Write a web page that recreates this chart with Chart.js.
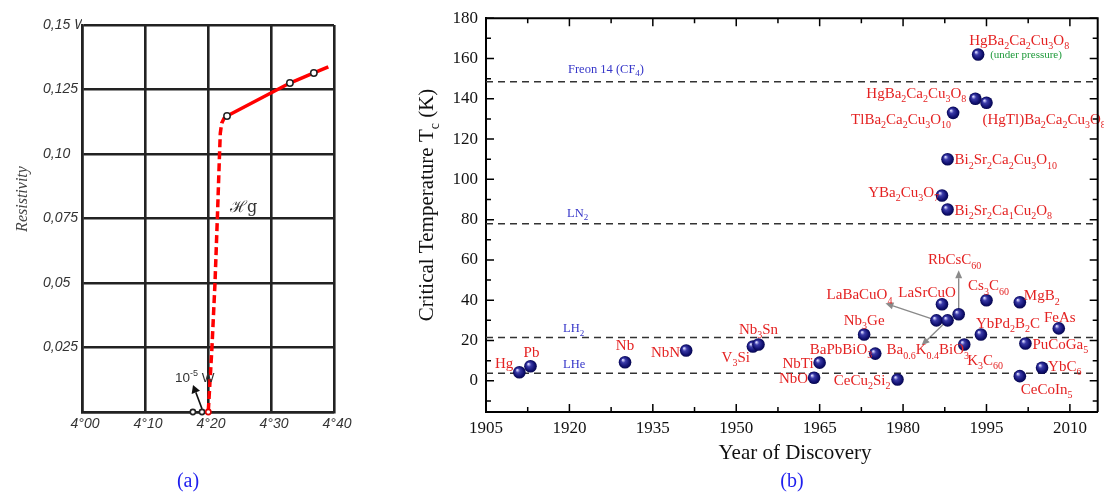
<!DOCTYPE html>
<html>
<head>
<meta charset="utf-8">
<title>Superconductivity: mercury resistance and critical temperatures</title>
<script src="https://cdn.jsdelivr.net/npm/chart.js@4.4.1/dist/chart.umd.min.js"></script>
<style>
  html, body { margin: 0; padding: 0; background: #fff; }
  #wrap { position: relative; width: 1104px; height: 495px; overflow: hidden; }
  #chartA { position: absolute; left: 0; top: 0; }
  #chartB { position: absolute; left: 380px; top: 0; }
</style>
</head>
<body>
<div id="wrap">
  <canvas id="chartA" width="380" height="495"></canvas>
  <canvas id="chartB" width="724" height="495"></canvas>
</div>
<script>
// ---------- panel (a): resistance of mercury near 4.2 K ----------
const hgTemps = [4.2302, 4.330, 4.368, 4.391];
const hgRes = [0.1147, 0.1275, 0.1314, 0.1338];
const hgDropTemps = [4.2005, 4.2063, 4.2111, 4.2148, 4.2183, 4.2195, 4.2217, 4.2254, 4.2302];
const hgDropRes = [0.0004, 0.0252, 0.05, 0.0748, 0.1, 0.108, 0.1119, 0.1138, 0.1147];
const hgZeroTemps = [4.176, 4.1905, 4.2005];
const hgZeroRes = [0, 0, 0];
const tempTickLabels = ['4°00', '4°10', '4°20', '4°30', '4°40'];
const resTickLabels = ['', '0,025', '0,05', '0,075', '0,10', '0,125', '0,15 W'];

// ---------- panel (b): Tc vs year of discovery ----------
const compounds = ['Hg', 'Pb', 'Nb', 'NbN', 'V_3Si', 'Nb_3Sn', 'NbTi', 'NbO', 'Nb_3Ge', 'BaPbBiO_3',
  'CeCu_2Si_2', 'LaBaCuO_4', 'Ba_{0.6}K_{0.4}BiO_3', 'LaSrCuO', 'RbCsC_{60}', 'K_3C_{60}', 'Cs_3C_{60}',
  'YbPd_2B_2C', 'MgB_2', 'PuCoGa_5', 'CeCoIn_5', 'YbC_6', 'FeAs', 'HgBa_2Ca_2Cu_3O_8',
  'HgBa_2Ca_2Cu_3O_8', '(HgTl)Ba_2Ca_2Cu_3O_8', 'TlBa_2Ca_2Cu_3O_{10}', 'Bi_2Sr_2Ca_2Cu_3O_{10}',
  'YBa_2Cu_3O_7', 'Bi_2Sr_2Ca_1Cu_2O_8'];
const years = [1911, 1913, 1930, 1941, 1953, 1954, 1965, 1964, 1973, 1975,
  1979, 1986, 1988, 1987, 1990, 1991, 1995,
  1994, 2001, 2002, 2001, 2005, 2008, 1993.5,
  1993, 1995, 1989, 1988,
  1987, 1988];
const tcValues = [4.2, 7.2, 9.2, 15, 17, 18, 9, 1.5, 23, 13.5,
  0.6, 30, 30, 38, 33, 18, 40,
  23, 39, 18.5, 2.3, 6.5, 26, 162,
  140, 138, 133, 110,
  92, 85];
const notes = compounds.map((c, i) => (i === 23 ? '(under pressure)' : ''));
const coolants = ['Freon 14 (CF_4)', 'LN_2', 'LH_2', 'LHe'];
const coolantTemps = [148.5, 78, 21.5, 3.7];

// label placement: [align, dx, dy] in pixels from the marker
const labelPlace = [
  ['right', -6, -9], ['center', 1, -14], ['center', 0, -17], ['right', -6, 1], ['right', -3, 10],
  ['center', 0, -16], ['right', -6, 0], ['right', -6, 0], ['center', 0, -15], ['right', -3, -5],
  ['right', -7, 0], ['right', -44, -26], ['left', -61, 29], ['center', -15, -12], ['center', -4, -55],
  ['left', 3, 15], ['center', 2, -15], ['left', -5, -12], ['left', 4, -7], ['left', 7, 0],
  ['left', 1, 13], ['left', 6, -2], ['center', 1, -12], ['left', -9, -15], ['right', -9, -6],
  ['left', -4, 16], ['right', -2, 6], ['left', 7, 0], ['right', -3, -4], ['left', 7, 0]
];
const arrowPlace = { 11: [-51, -17], 12: [-26, 25], 14: [0, -44] };
const coolantPlace = [['center', 120, -9], ['left', 81, -7], ['left', 77, -5], ['left', 77, -5]];

const SERIF = '"Liberation Serif", "DejaVu Serif", serif';
const SANS = '"Liberation Sans", Arial, sans-serif';

function zip(xs, ys) {
  return xs.map((x, i) => ({ x: x, y: ys[i] }));
}

// simple rich text: _x or _{..} subscript, ^x or ^{..} superscript
function parseRich(s) {
  const segs = [];
  let i = 0;
  while (i < s.length) {
    const c = s[i];
    if (c === '_' || c === '^') {
      let t;
      if (s[i + 1] === '{') {
        const j = s.indexOf('}', i);
        t = s.slice(i + 2, j);
        i = j + 1;
      } else {
        t = s[i + 1];
        i += 2;
      }
      segs.push({ t: t, k: c });
    } else {
      let j = i;
      while (j < s.length && s[j] !== '_' && s[j] !== '^') j++;
      segs.push({ t: s.slice(i, j), k: '' });
      i = j;
    }
  }
  return segs;
}

function drawRich(ctx, s, x, y, size, family, color, align, style) {
  const segs = parseRich(s);
  const pre = style ? style + ' ' : '';
  const fontOf = k => pre + (k ? Math.round(size * 0.68) : size) + 'px ' + family;
  let w = 0;
  segs.forEach(g => {
    ctx.font = fontOf(g.k);
    g.w = ctx.measureText(g.t).width;
    w += g.w;
  });
  let cx = align === 'right' ? x - w : align === 'center' ? x - w / 2 : x;
  const base = y + size * 0.34;
  ctx.fillStyle = color;
  ctx.textAlign = 'left';
  ctx.textBaseline = 'alphabetic';
  segs.forEach(g => {
    ctx.font = fontOf(g.k);
    const dy = g.k === '_' ? size * 0.28 : g.k === '^' ? -size * 0.4 : 0;
    ctx.fillText(g.t, cx, base + dy);
    cx += g.w;
  });
}

function drawArrow(ctx, x1, y1, x2, y2, color, width, head, half) {
  const ang = Math.atan2(y2 - y1, x2 - x1);
  const bx = x2 - head * Math.cos(ang), by = y2 - head * Math.sin(ang);
  ctx.strokeStyle = color;
  ctx.fillStyle = color;
  ctx.lineWidth = width;
  ctx.beginPath();
  ctx.moveTo(x1, y1);
  ctx.lineTo(bx, by);
  ctx.stroke();
  ctx.beginPath();
  ctx.moveTo(x2, y2);
  ctx.lineTo(bx + half * Math.sin(ang), by - half * Math.cos(ang));
  ctx.lineTo(bx - half * Math.sin(ang), by + half * Math.cos(ang));
  ctx.closePath();
  ctx.fill();
}

// ---------- chart (a) ----------
const panelAText = {
  id: 'panelAText',
  afterDraw(chart) {
    const { ctx, scales: { x, y } } = chart;
    ctx.save();
    drawArrow(ctx, x.getPixelForValue(4.1905), y.getPixelForValue(0.0012),
      x.getPixelForValue(4.1762), y.getPixelForValue(0.0105), '#111', 1.6, 8, 4.5);
    drawRich(ctx, '10^{-5} W', x.getPixelForValue(4.1476), y.getPixelForValue(0.0136), 13.5, SANS, '#333', 'left');
    drawRich(ctx, 'ℋg', x.getPixelForValue(4.2349), y.getPixelForValue(0.0795), 16, '"DejaVu Serif", serif', '#333', 'left');
    ctx.save();
    ctx.translate(22, 199);
    ctx.rotate(-Math.PI / 2);
    drawRich(ctx, 'Resistivity', 0, 0, 16, SERIF, '#444', 'center', 'italic');
    ctx.restore();
    drawRich(ctx, '(a)', 188, 480, 20, SERIF, '#1f1fee', 'center');
    ctx.restore();
  }
};

const axisA = {
  border: { display: true, color: '#222', width: 2.5 },
  grid: { color: '#222', lineWidth: 2.6, drawTicks: false }
};

new Chart(document.getElementById('chartA'), {
  type: 'scatter',
  data: {
    datasets: [
      {
        label: 'zero resistance',
        data: zip(hgZeroTemps, hgZeroRes),
        showLine: false,
        pointRadius: 2.6,
        pointBorderWidth: 1.6,
        pointBorderColor: ['#222', '#222', '#e00000'],
        pointBackgroundColor: '#fff',
        clip: false
      },
      {
        label: 'measured',
        data: zip(hgTemps, hgRes),
        showLine: true,
        borderColor: '#ff0000',
        borderWidth: 3.5,
        pointRadius: [3.2, 3.2, 3.2, 0],
        pointBorderColor: '#222',
        pointBorderWidth: 1.5,
        pointBackgroundColor: '#fff',
        clip: false
      },
      {
        label: 'transition',
        data: zip(hgDropTemps, hgDropRes),
        showLine: true,
        borderColor: '#ff0000',
        borderWidth: 3.5,
        borderDash: [8, 4],
        pointRadius: 0,
        clip: false
      }
    ]
  },
  options: {
    responsive: false,
    animation: false,
    devicePixelRatio: 1,
    events: [],
    layout: { padding: { left: 43, right: 46, top: 25, bottom: 0 } },
    plugins: { legend: { display: false }, tooltip: { enabled: false } },
    scales: {
      x: Object.assign({
        type: 'linear', min: 4.0, max: 4.4,
        afterFit: s => { s.height = 83; },
        ticks: {
          stepSize: 0.1, autoSkip: false, maxRotation: 0, padding: 4, labelOffset: 3,
          color: '#333', font: { family: SANS, size: 14, style: 'italic' },
          callback: (v, i) => tempTickLabels[i]
        }
      }, axisA),
      y: Object.assign({
        type: 'linear', min: 0, max: 0.15,
        afterFit: s => { s.width = 39; },
        ticks: {
          stepSize: 0.025, autoSkip: false, crossAlign: 'far', padding: 0,
          color: '#333', font: { family: SANS, size: 14, style: 'italic' },
          callback: (v, i) => resTickLabels[i]
        }
      }, axisA)
    }
  },
  plugins: [panelAText]
});

// ---------- chart (b) ----------
function sphereFill(c) {
  const base = '#12127a';
  if (c.type !== 'data' || !c.parsed) return base;
  const xs = c.chart.scales.x, ys = c.chart.scales.y;
  const px = xs.getPixelForValue(c.parsed.x), py = ys.getPixelForValue(c.parsed.y);
  if (!isFinite(px) || !isFinite(py)) return base;
  const g = c.chart.ctx.createRadialGradient(px - 2.2, py - 2.4, 0.4, px, py, 6.5);
  g.addColorStop(0, '#d8d8ff');
  g.addColorStop(0.3, '#3a3aa8');
  g.addColorStop(0.75, '#101070');
  g.addColorStop(1, '#06064a');
  return g;
}

const panelBDecor = {
  id: 'panelBDecor',
  beforeDatasetsDraw(chart) {
    const { ctx } = chart;
    const meta = chart.getDatasetMeta(0);
    ctx.save();
    Object.keys(arrowPlace).forEach(k => {
      const el = meta.data[k];
      const [dx, dy] = arrowPlace[k];
      drawArrow(ctx, el.x, el.y, el.x + dx, el.y + dy, '#8a8a8a', 1.4, 8, 3.5);
    });
    ctx.restore();
  },
  afterDatasetsDraw(chart) {
    const { ctx, chartArea: a, scales: { x, y } } = chart;
    const meta = chart.getDatasetMeta(0);
    ctx.save();
    compounds.forEach((name, i) => {
      const el = meta.data[i];
      const [align, dx, dy] = labelPlace[i];
      drawRich(ctx, name, el.x + dx, el.y + dy, 15, SERIF, '#e42222', align);
      if (notes[i]) drawRich(ctx, notes[i], el.x + 12, el.y, 11, SERIF, '#1e9a3a', 'left');
    });
    coolants.forEach((name, i) => {
      const [align, dx, dy] = coolantPlace[i];
      drawRich(ctx, name, a.left + dx, y.getPixelForValue(coolantTemps[i]) + dy - 4.3, 12.5, SERIF, '#3535c8', align);
    });
    ctx.restore();
  },
  afterDraw(chart) {
    const { ctx, chartArea: a, scales: { x, y } } = chart;
    ctx.save();
    // top and right frame
    ctx.strokeStyle = '#000';
    ctx.lineWidth = 2;
    ctx.beginPath();
    ctx.moveTo(a.left, a.top);
    ctx.lineTo(a.right, a.top);
    ctx.lineTo(a.right, a.bottom);
    ctx.stroke();
    // inward ticks on all four sides
    ctx.lineWidth = 1.5;
    ctx.beginPath();
    x.ticks.forEach(t => {
      const p = x.getPixelForValue(t.value);
      const len = t.label ? 8 : 5;
      ctx.moveTo(p, a.bottom); ctx.lineTo(p, a.bottom - len);
      ctx.moveTo(p, a.top); ctx.lineTo(p, a.top + len);
    });
    y.ticks.forEach(t => {
      const p = y.getPixelForValue(t.value);
      const len = t.label ? 8 : 5;
      ctx.moveTo(a.left, p); ctx.lineTo(a.left + len, p);
      ctx.moveTo(a.right, p); ctx.lineTo(a.right - len, p);
    });
    ctx.stroke();
    // axis titles
    drawRich(ctx, 'Year of Discovery', 415, 452, 21, SERIF, '#111', 'center');
    ctx.save();
    ctx.translate(46, 205);
    ctx.rotate(-Math.PI / 2);
    drawRich(ctx, 'Critical Temperature T_c (K)', 0, 0, 21, SERIF, '#111', 'center');
    ctx.restore();
    drawRich(ctx, '(b)', 412, 480, 20, SERIF, '#1f1fee', 'center');
    ctx.restore();
  }
};

const axisB = {
  border: { display: true, color: '#000', width: 2 },
  grid: { display: false, drawTicks: false }
};

new Chart(document.getElementById('chartB'), {
  type: 'scatter',
  data: {
    datasets: [
      {
        label: 'Superconductors',
        data: zip(years, tcValues),
        pointRadius: 6.3,
        pointBorderWidth: 0,
        pointBackgroundColor: sphereFill,
        order: 0
      }
    ].concat(coolants.map((name, i) => ({
      label: name,
      data: [{ x: 1905, y: coolantTemps[i] }, { x: 2015, y: coolantTemps[i] }],
      showLine: true,
      borderColor: '#333',
      borderWidth: 1.5,
      borderDash: [7, 5],
      pointRadius: 0,
      order: 1
    })))
  },
  options: {
    responsive: false,
    animation: false,
    devicePixelRatio: 1,
    events: [],
    layout: { padding: { left: 0, right: 1, top: 10, bottom: 0 } },
    plugins: { legend: { display: false }, tooltip: { enabled: false } },
    scales: {
      x: Object.assign({
        type: 'linear', min: 1905, max: 2015,
        afterFit: s => { s.height = 83; },
        ticks: {
          stepSize: 7.5, includeBounds: false, autoSkip: false, maxRotation: 0, padding: 6,
          color: '#111', font: { family: SERIF, size: 17 },
          callback: v => ((v - 1905) % 15 === 0 ? String(v) : '')
        }
      }, axisB),
      y: Object.assign({
        type: 'linear', min: -15.5, max: 180,
        afterFit: s => { s.width = 106; },
        ticks: {
          stepSize: 10, includeBounds: false, autoSkip: false, padding: 8,
          color: '#111', font: { family: SERIF, size: 17 },
          callback: v => (v % 20 === 0 ? String(v) : '')
        }
      }, axisB)
    }
  },
  plugins: [panelBDecor]
});
</script>
</body>
</html>
